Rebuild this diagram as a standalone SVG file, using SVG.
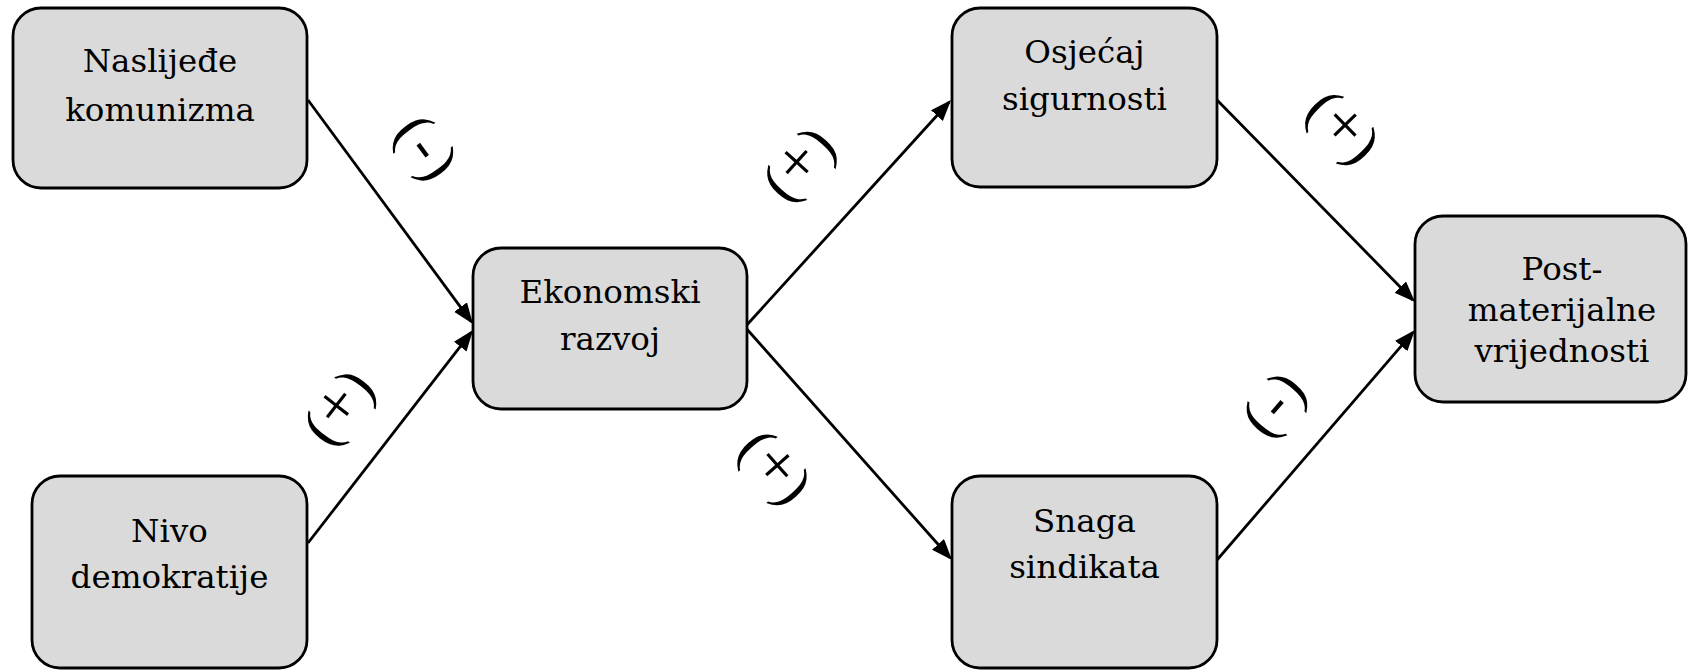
<svg xmlns="http://www.w3.org/2000/svg" width="1688" height="671" viewBox="0 0 1688 671">
<style>
.box{fill:#dadada;stroke:#000;stroke-width:2.8}
.lbl{font-family:"DejaVu Serif","Liberation Serif",serif;font-size:32.5px;fill:#000;text-anchor:middle}
.edge{stroke:#000;stroke-width:2.8;fill:none;marker-end:url(#ah)}
.sign{font-family:"Liberation Serif","DejaVu Serif",serif;font-size:58px;fill:#000;text-anchor:middle}
.pl{font-size:64px}
</style>
<defs>
<marker id="ah" markerUnits="userSpaceOnUse" markerWidth="24" markerHeight="20" refX="18" refY="8" orient="auto">
<path d="M0,0 L21,8 L0,16 z" fill="#000"/>
</marker>
</defs>
<rect width="1688" height="671" fill="#fff"/>
<g id="connectors">
<path class="edge" d="M308,100 L471.2,321.6"/>
<path class="edge" d="M308,543 L471.2,332.4"/>
<path class="edge" d="M745,327 L949,102.2"/>
<path class="edge" d="M745,327 L950,557.8"/>
<path class="edge" d="M1217,100 L1412.9,299.9"/>
<path class="edge" d="M1217,560 L1413,332.3"/>
</g>
<g id="signs">
<text class="sign" transform="translate(423,150) rotate(53.6)" y="14">(<tspan dx="3">-</tspan><tspan dx="3">)</tspan></text>
<text class="sign" transform="translate(342,410) rotate(-52.2)" y="14">(<tspan class="pl" dx="1">+</tspan><tspan dx="1">)</tspan></text>
<text class="sign" transform="translate(802,167) rotate(-47.8)" y="14">(<tspan class="pl" dx="1">+</tspan><tspan dx="1">)</tspan></text>
<text class="sign" transform="translate(772,470) rotate(48.4)" y="14">(<tspan class="pl" dx="1">+</tspan><tspan dx="1">)</tspan></text>
<text class="sign" transform="translate(1340,130) rotate(45.6)" y="14">(<tspan class="pl" dx="1">+</tspan><tspan dx="1">)</tspan></text>
<text class="sign" transform="translate(1277,407) rotate(-49.3)" y="14">(<tspan dx="3">-</tspan><tspan dx="3">)</tspan></text>
</g>
<g id="n-naslijede">
<rect class="box" x="13" y="8" width="294" height="180" rx="28"/>
<text class="lbl" x="160" y="72">Naslijeđe</text>
<text class="lbl" x="160" y="121">komunizma</text>
</g>
<g id="n-nivo">
<rect class="box" x="32" y="476" width="275" height="192" rx="28"/>
<text class="lbl" x="169.5" y="542">Nivo</text>
<text class="lbl" x="169.5" y="588">demokratije</text>
</g>
<g id="n-ekonomski">
<rect class="box" x="473" y="248" width="274" height="161" rx="28"/>
<text class="lbl" x="610" y="303">Ekonomski</text>
<text class="lbl" x="610" y="350">razvoj</text>
</g>
<g id="n-osjecaj">
<rect class="box" x="952" y="8" width="265" height="179" rx="28"/>
<text class="lbl" x="1084.5" y="63">Osjećaj</text>
<text class="lbl" x="1084.5" y="110">sigurnosti</text>
</g>
<g id="n-snaga">
<rect class="box" x="952" y="476" width="265" height="192" rx="28"/>
<text class="lbl" x="1084.5" y="532">Snaga</text>
<text class="lbl" x="1084.5" y="578">sindikata</text>
</g>
<g id="n-post">
<rect class="box" x="1415" y="216" width="271" height="186" rx="28"/>
<text class="lbl" x="1562" y="280">Post-</text>
<text class="lbl" x="1562" y="321">materijalne</text>
<text class="lbl" x="1562" y="362">vrijednosti</text>
</g>
</svg>
